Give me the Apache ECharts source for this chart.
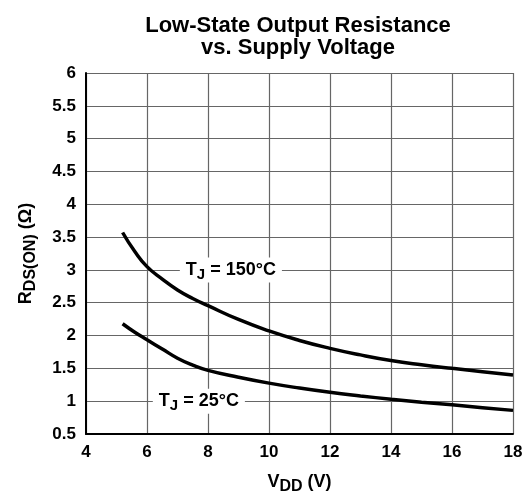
<!DOCTYPE html>
<html><head><meta charset="utf-8">
<script src="https://cdn.jsdelivr.net/npm/echarts@6/dist/echarts.min.js"></script>
<style>html,body{margin:0;padding:0;background:#fff}#c{width:526px;height:494px}</style>
</head><body><div id="c"></div>
<script>
var vdd = [5.2, 5.6, 6, 6.5, 7, 7.5, 8, 9, 10, 11, 12, 13, 14, 15, 16, 17, 18];
var r150 = [3.57, 3.28, 3.05, 2.86, 2.695, 2.565, 2.455, 2.245, 2.07, 1.925, 1.805, 1.705, 1.62, 1.555, 1.50, 1.45, 1.40];
var r25 = [2.18, 2.05, 1.935, 1.795, 1.655, 1.55, 1.47, 1.365, 1.275, 1.20, 1.135, 1.08, 1.03, 0.985, 0.945, 0.90, 0.86];
var xTicks = [4, 6, 8, 10, 12, 14, 16, 18];
var yTicks = [0.5, 1, 1.5, 2, 2.5, 3, 3.5, 4, 4.5, 5, 5.5, 6];
var label150 = {x: 8.75, y: 3.0};
var label25 = {x: 7.7, y: 1.0};

var FF = 'Liberation Sans, Arial, sans-serif';
function pairs(xs, ys){ return xs.map(function(x,i){return [x, ys[i]];}); }
function fmt(v){ return String(v); }
var tjRich = {
  a: {fontFamily: FF, fontWeight: 'bold', fontSize: 18, color: '#000'},
  s: {fontFamily: FF, fontWeight: 'bold', fontSize: 15, color: '#000', padding: [10,0,0,0]}
};
var chart = echarts.init(document.getElementById('c'));
chart.setOption({
  animation: false,
  backgroundColor: '#fff',
  title: {
    text: 'Low-State Output Resistance\nvs. Supply Voltage',
    left: 293, textAlign: 'center', top: 10,
    textStyle: {fontFamily: FF, fontWeight: 'bold', fontSize: 22, color: '#000', lineHeight: 22}
  },
  grid: {left: 86, right: 13, top: 73, bottom: 60, containLabel: false, outerBoundsMode: 'none'},
  xAxis: {
    type: 'value', min: xTicks[0], max: xTicks[xTicks.length-1], interval: 2,
    axisLine: {show: true, onZero: false, lineStyle: {color: '#000', width: 2}},
    axisTick: {show: false},
    splitLine: {show: true, lineStyle: {color: '#666', width: 1.2}},
    axisLabel: {fontFamily: FF, fontWeight: 'bold', fontSize: 17, color: '#000', margin: 10, formatter: fmt},
    name: '{a|V}{s|DD}{a| (V)}',
    nameLocation: 'middle', nameGap: 36,
    nameTextStyle: {rich: {
      a: {fontFamily: FF, fontWeight: 'bold', fontSize: 18, color: '#000'},
      s: {fontFamily: FF, fontWeight: 'bold', fontSize: 16, color: '#000', padding: [9,0,0,0]}
    }}
  },
  yAxis: {
    type: 'value', min: yTicks[0], max: yTicks[yTicks.length-1], interval: 0.5,
    axisLine: {show: true, lineStyle: {color: '#000', width: 2}},
    axisTick: {show: false},
    splitLine: {show: true, lineStyle: {color: '#666', width: 1.2}},
    axisLabel: {fontFamily: FF, fontWeight: 'bold', fontSize: 17, color: '#000', margin: 10, formatter: fmt},
    name: '{a|R}{s|DS(ON)}{a| (Ω)}',
    nameLocation: 'middle', nameGap: 47, nameRotate: 90,
    nameTextStyle: {rich: {
      a: {fontFamily: FF, fontWeight: 'bold', fontSize: 18, color: '#000'},
      s: {fontFamily: FF, fontWeight: 'bold', fontSize: 16, color: '#000', padding: [9,0,0,0]}
    }}
  },
  series: [
    {type: 'line', data: pairs(vdd, r150), smooth: true, showSymbol: false,
     lineStyle: {color: '#000', width: 3.5}, z: 3,
     markPoint: {symbol: 'rect', symbolSize: 0, silent: true,
       data: [{coord: [label150.x, label150.y],
         label: {show: true, formatter: '{a|T}{s|J}{a| = 150°C}', backgroundColor: '#fff', padding: [0,6,0,6], rich: tjRich}}]}},
    {type: 'line', data: pairs(vdd, r25), smooth: true, showSymbol: false,
     lineStyle: {color: '#000', width: 3.5}, z: 3,
     markPoint: {symbol: 'rect', symbolSize: 0, silent: true,
       data: [{coord: [label25.x, label25.y],
         label: {show: true, formatter: '{a|T}{s|J}{a| = 25°C}', backgroundColor: '#fff', padding: [0,6,0,6], rich: tjRich}}]}}
  ]
});
</script></body></html>
